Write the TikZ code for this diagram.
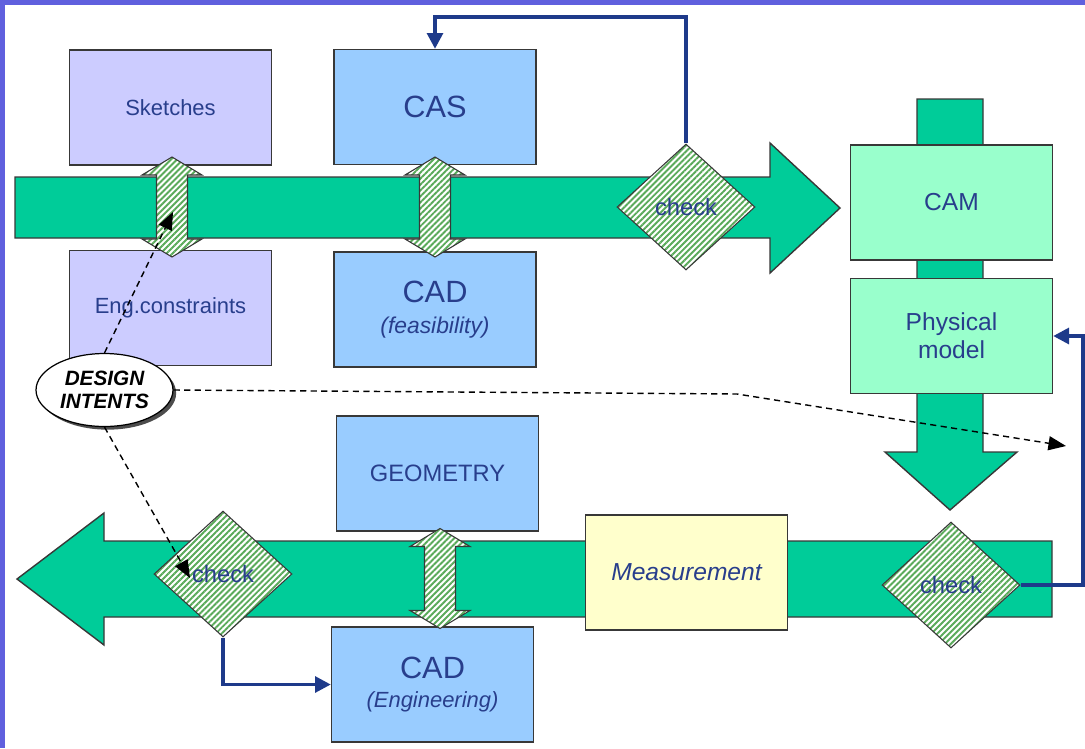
\documentclass[tikz,border=0pt]{standalone}
\usepackage{fontspec}
\setmainfont{Liberation Sans}
\usetikzlibrary{arrows.meta,shapes.geometric,patterns.meta,shadows}
\definecolor{frame}{RGB}{96,96,222}
\definecolor{flow}{RGB}{0,204,153}
\definecolor{edge}{RGB}{56,56,56}
\definecolor{txt}{RGB}{40,62,140}
\definecolor{linkblue}{RGB}{30,58,138}
\definecolor{lilac}{RGB}{204,204,255}
\definecolor{sky}{RGB}{153,204,255}
\definecolor{mint}{RGB}{153,255,204}
\definecolor{cream}{RGB}{255,255,204}
\definecolor{stripe}{RGB}{90,170,90}
\tikzset{
  box/.style={draw=edge, line width=0.8pt, minimum width=4.04cm, minimum height=2.3cm, align=center, text=txt, inner sep=1mm},
  sketch/.style={box, fill=lilac, font=\fontsize{12.5}{15}\selectfont},
  cadbox/.style={box, fill=sky},
  cambox/.style={box, fill=mint, font=\fontsize{14}{16}\selectfont},
  measbox/.style={box, fill=cream, font=\fontsize{14}{16}\selectfont\itshape},
  hatch/.style={draw=edge, line width=0.6pt, preaction={fill=white}, pattern={Lines[angle=45,distance=2.4pt,line width=1.1pt]}, pattern color=stripe},
  check/.style={hatch, diamond, minimum width=2.76cm, minimum height=2.52cm, inner sep=0pt, text=txt, font=\fontsize{13.5}{16}\selectfont},
  flowarrow/.style={draw=edge, line width=0.8pt, fill=flow},
  link/.style={-{Triangle[length=9pt,width=9pt]}, line width=2pt, draw=linkblue},
  intent/.style={-{Triangle[length=10pt,width=8pt]}, dash pattern=on 3.5pt off 2.5pt, line width=0.8pt},
  bubble/.style={ellipse, draw=black, line width=0.7pt, fill=white, minimum width=2.74cm, minimum height=1.46cm, inner sep=0pt, align=center,
    font=\fontsize{11.8}{13}\selectfont\bfseries\itshape, drop shadow={fill=black!70, opacity=1, shadow xshift=1.8pt, shadow yshift=-1.8pt}},
}

\begin{document}
\begin{tikzpicture}[x=0.02cm, y=-0.02cm]
  \useasboundingbox (0,0) rectangle (1085,748);
  \fill[frame] (0,0) rectangle (1085,5);
  \fill[frame] (0,0) rectangle (5,748);

  % Process flow
  \draw[flowarrow] (15,177) -- (770,177) -- (770,143) -- (840,208) -- (770,273) -- (770,238) -- (15,238) -- cycle;
  \draw[flowarrow] (917,99) -- (983,99) -- (983,452) -- (1017,452) -- (950,510) -- (885,452) -- (917,452) -- cycle;
  \draw[flowarrow] (1052,541) -- (104,541) -- (104,513) -- (17,579) -- (104,645) -- (104,617) -- (1052,617) -- cycle;

  \node[sketch] (sketches) at (170.5,107.5) {Sketches};
  \node[sketch] (engcons) at (170.5,308) {Eng.constraints};
  \node[cadbox, font=\fontsize{17.5}{20}\selectfont] (cas) at (435,107) {CAS};
  \node[cadbox, font=\fontsize{13}{17.5}\selectfont] (cadfeas) at (435,309.5) {{\fontsize{17.5}{20}\selectfont CAD}\\{\itshape (feasibility)}};
  \node[cambox] (cam) at (951.5,202.5) {CAM};
  \node[cambox] (phys) at (951.5,336) {Physical\\model};
  \node[cadbox, font=\fontsize{13.5}{16}\selectfont] (geometry) at (437.5,473.5) {GEOMETRY};
  \node[measbox] (meas) at (686.5,572.5) {Measurement};
  \node[cadbox, font=\fontsize{12.5}{17}\selectfont] (cadeng) at (432.5,684.5) {{\fontsize{17.5}{20}\selectfont CAD}\\{\itshape (Engineering)}};

  % Exchanges
  \foreach \x/\y in {172/207, 435/207, 440/578.5}
    \draw[hatch, shift={(\x,\y)}] (0,-50) -- (30,-32) -- (15.5,-32) -- (15.5,32) -- (30,32) -- (0,50) -- (-30,32) -- (-15.5,32) -- (-15.5,-32) -- (-30,-32) -- cycle;

  \node[check] (chktop) at (686,207) {check};
  \node[check] (chkleft) at (223,574) {check};
  \node[check] (chkright) at (951,585) {check};

  % Feedback loops
  \coordinate (loopa) at (686,17);
  \coordinate (loopc) at (1083,336);
  \draw[link] (chktop.north) -- (loopa) -| (cas.north);
  \draw[link] (chkleft.south) |- (cadeng.west);
  \draw[link] (chkright.east) -| (loopc) -- (phys.east);

  % Design intents
  \node[bubble] (intents) at (104.5,390) {DESIGN\\INTENTS};
  \coordinate (tipsk) at (173,212);
  \coordinate (tipchk) at (190,578);
  \coordinate (bend) at (737,394);
  \coordinate (tipphys) at (1066,446);
  \draw[intent] (intents.north) -- (tipsk);
  \draw[intent] (intents.south) -- (tipchk);
  \draw[intent] (intents.east) -- (bend) -- (tipphys);
\end{tikzpicture}
\end{document}
